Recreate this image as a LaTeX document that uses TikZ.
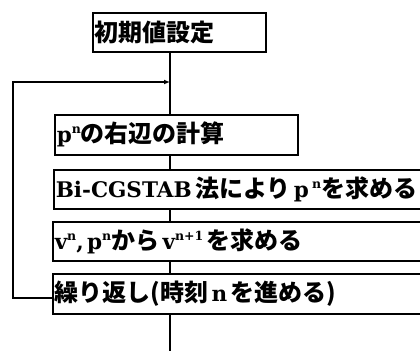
\documentclass[tikz,border=0pt]{standalone}
\usepackage{fontspec}
\newfontfamily\cjk{Noto Sans CJK JP}
\newfontfamily\lat{DejaVu Serif}
\usetikzlibrary{arrows.meta}
\newcommand\J[1]{{\cjk\bfseries\fontsize{24}{26}\selectfont #1}}
\newcommand\R[1]{{\lat\bfseries\fontsize{21.5}{24}\selectfont #1}}
\newcommand\su[1]{\raisebox{0.42em}{\fontsize{12.5}{14}\selectfont #1}}
\begin{document}
\begin{tikzpicture}[x=1pt,y=-1pt,
  line/.style={line width=1.5pt},
  box/.style={draw, line width=1.5pt, anchor=north west, inner sep=2pt, align=left}]
\useasboundingbox (0,0) rectangle (420,351);
\node[box, minimum height=39pt, text width=169pt] (b1) at (92,12) {\J{初期値設定}};
\node[box, minimum height=40pt, text width=239pt] (b2) at (54,114) {\R{p\su{n}}\J{の右辺の計算}};
\node[box, minimum height=39pt, text width=390pt] (b3) at (53,169) {\R{Bi-CGSTAB }\J{法により}\R{ p \su{n}}\J{を求める}};
\node[box, minimum height=39pt, text width=390pt] (b4) at (52,221) {\R{v\su{n}, p\su{n}}\J{から}\R{ v\su{n+1} }\J{を求める}};
\node[box, minimum height=40pt, text width=390pt] (b5) at (52,273) {\J{繰り返し(時刻}\R{ n }\J{を進める)}};
\coordinate (tk) at (170,0);
\coordinate (lc) at (13,0);
\coordinate (jn) at (170,82);
\coordinate (bottom) at (170,351);
\draw[line] (b1.south -| tk) -- (b2.north -| tk);
\draw[line] (b2.south -| tk) -- (b3.north -| tk);
\draw[line] (b3.south -| tk) -- (b4.north -| tk);
\draw[line] (b4.south -| tk) -- (b5.north -| tk);
\draw[line] (b5.south -| tk) -- (bottom);
\draw[line, -{Latex[length=6pt,width=5pt]}] ([yshift=-4pt]b5.west) -- ([yshift=-4pt]b5.west -| lc) -- (lc |- jn) -- (jn);
\end{tikzpicture}
\end{document}
